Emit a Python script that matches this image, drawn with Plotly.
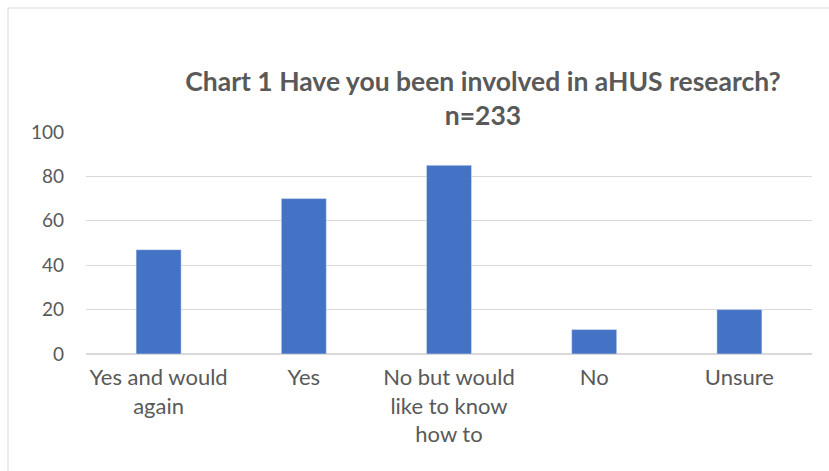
import plotly.graph_objects as go

categories = ["Yes and would<br>again", "Yes", "No but would<br>like to know<br>how to", "No", "Unsure"]
values = [47, 70, 85, 11, 20]
y_ticks = [0, 20, 40, 60, 80, 100]
title_text = "Chart 1 Have you been involved in aHUS research?<br>n=233"

W, H = 829, 471
L, R, T, B = 86, 17, 132, 117
pw, ph = W - L - R, H - T - B

fig = go.Figure(go.Bar(x=categories, y=values, marker_color="#4472C4", width=0.31))

def px2x(p):
    return (p - L) / pw

def py2y(p):
    return (H - B - p) / ph

fig.add_shape(type="rect", xref="paper", yref="paper",
              x0=px2x(8), x1=px2x(850), y0=py2y(490), y1=py2y(8),
              line=dict(color="#d9d9d9", width=1), layer="below")

font = "Lato"
fig.update_layout(
    width=W, height=H,
    margin=dict(l=L, r=R, t=T, b=B),
    paper_bgcolor="white", plot_bgcolor="white",
    showlegend=False,
    title=dict(text=title_text, x=483 / W, xanchor="center", y=1 - 91 / H, yanchor="middle",
               font=dict(family=font, size=26.5, color="#595959", weight="bold")),
    font=dict(family=font, color="#595959"),
)
fig.update_yaxes(range=[0, 100], tickvals=y_ticks, showgrid=True, gridcolor="#d9d9d9", gridwidth=1,
                 zeroline=True, zerolinecolor="#d9d9d9", showline=False,
                 tickfont=dict(family=font, size=19, color="#595959"), ticklabelstandoff=21)
fig.update_xaxes(showgrid=False, showline=False, ticks="",
                 tickfont=dict(family=font, size=22, color="#595959"), tickangle=0,
                 ticklabelstandoff=8)

fig.write_html("out.html")
